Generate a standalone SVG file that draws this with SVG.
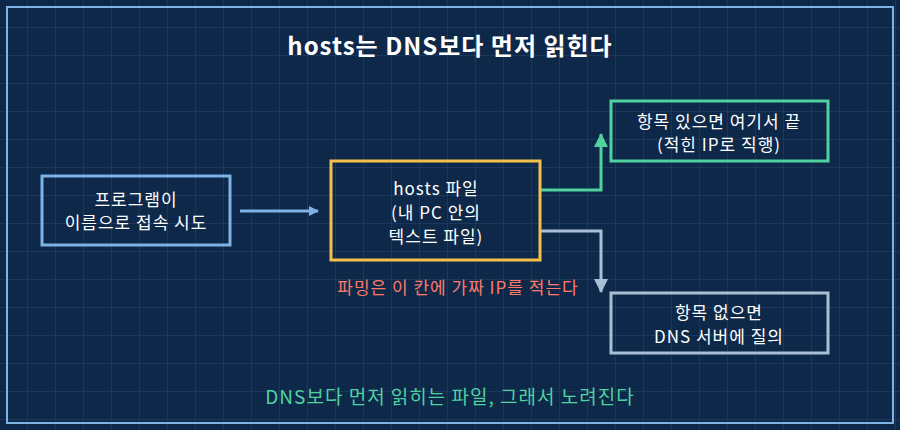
<svg xmlns="http://www.w3.org/2000/svg" width="900" height="430" viewBox="0 0 900 430">
<defs>
<pattern id="grid" width="28" height="28" patternUnits="userSpaceOnUse"><path d="M28 0V28H0" fill="none" stroke="#28456d" stroke-width="1"/></pattern>
<marker id="ab" markerWidth="10" markerHeight="10" refX="9" refY="5" orient="auto" markerUnits="userSpaceOnUse" viewBox="0 0 10 10"><path d="M0 0L10 5L0 10z" fill="#7fb2e5"/></marker>
<marker id="ag" markerWidth="14" markerHeight="14" refX="13" refY="7" orient="auto" markerUnits="userSpaceOnUse" viewBox="0 0 14 14"><path d="M0 0L14 7L0 14z" fill="#4fd1a0"/></marker>
<marker id="as" markerWidth="14" markerHeight="14" refX="13" refY="7" orient="auto" markerUnits="userSpaceOnUse" viewBox="0 0 14 14"><path d="M0 0L14 7L0 14z" fill="#a9bfd6"/></marker>
</defs>
<style>
text{font-family:"Noto Sans CJK KR","Liberation Sans",sans-serif;fill:#ffffff;font-size:17px;letter-spacing:1px;text-anchor:middle}
.box{fill:none;stroke-width:3}
.c{fill:none;stroke-width:3}
</style>
<rect width="900" height="430" fill="#0e2849"/>
<rect width="900" height="430" fill="url(#grid)"/>
<rect x="7" y="7" width="886" height="416" fill="none" stroke="#7fb2e5" stroke-width="2"/>
<text x="450" y="55" style="font-size:24px;font-weight:bold">hosts는 DNS보다 먼저 읽힌다</text>
<g id="connectors">
<path class="c" d="M240 211H318" stroke="#7fb2e5" marker-end="url(#ab)"/>
<path class="c" d="M540 190H601V134" stroke="#4fd1a0" marker-end="url(#ag)"/>
<path class="c" d="M540 231H601V292" stroke="#a9bfd6" marker-end="url(#as)"/>
</g>
<g id="program"><rect class="box" x="42" y="176" width="188" height="69" stroke="#7fb2e5"/>
<text x="136" y="206">프로그램이</text><text x="136" y="229">이름으로 접속 시도</text></g>
<g id="hosts"><rect class="box" x="331" y="161" width="209" height="99" stroke="#f5c04a"/>
<text x="436" y="195">hosts 파일</text><text x="436" y="219">(내 PC 안의</text><text x="436" y="243">텍스트 파일)</text></g>
<text x="458" y="294" style="fill:#ff7a6b">파밍은 이 칸에 가짜 IP를 적는다</text>
<g id="found"><rect class="box" x="611" y="101" width="217" height="60" stroke="#4fd1a0"/>
<text x="719" y="128">항목 있으면 여기서 끝</text><text x="719" y="151">(적힌 IP로 직행)</text></g>
<g id="notfound"><rect class="box" x="611" y="293" width="217" height="60" stroke="#a9bfd6"/>
<text x="719" y="319">항목 없으면</text><text x="719" y="343">DNS 서버에 질의</text></g>
<text x="450" y="404" style="fill:#4fd1a0;font-size:19px">DNS보다 먼저 읽히는 파일, 그래서 노려진다</text>
</svg>
